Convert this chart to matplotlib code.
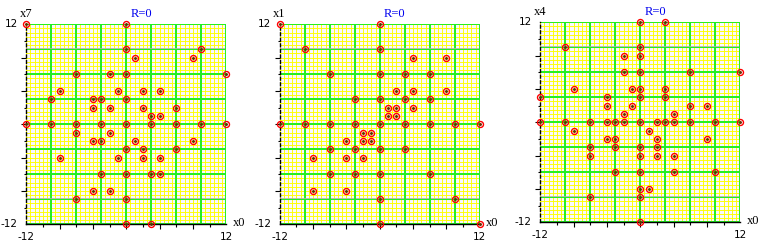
import matplotlib
matplotlib.use("Agg")
import matplotlib.pyplot as plt
import numpy as np

# x0 values shared axis; each panel plots x0 against another variable
p1_x0 = [-12, 0, 0, 9, 1, 8, -6, -2, 0, 12, -8, -1, 2, 4, -9, -4, -3, 0, -4, -2, 2, 6, 3, 4,
         -12, -9, -6, -3, 0, 3, 6, 9, 12, -6, -2, -4, -3, 1, 8, 0, 2, 6, -8, -1, 2, 4,
         -3, 0, 3, 4, -4, -2, -6, 0, 0, 3]
p1_x7 = [12, 12, 9, 9, 8, 8, 6, 6, 6, 6, 4, 4, 4, 4, 3, 3, 3, 3, 2, 2, 2, 2, 1, 1,
         0, 0, 0, 0, 0, 0, 0, 0, 0, -1, -1, -2, -2, -2, -2, -3, -3, -3, -4, -4, -4, -4,
         -6, -6, -6, -6, -8, -8, -9, -9, -12, -12]

p2_x0 = [-12, 0, -9, 0, 4, 8, -6, 0, 3, 6, 2, 4, 8, -3, 0, 3, 6, 1, 2, 4, 1, 2,
         -12, -9, -6, -3, 0, 3, 6, 9, 12, -2, -1, -4, -2, -1, -6, -3, 0, 3, -8, -4, -2,
         -6, -3, 0, 6, -8, -4, 0, 9, 0, 12]
p2_x1 = [12, 12, 9, 9, 8, 8, 6, 6, 6, 6, 4, 4, 4, 3, 3, 3, 3, 2, 2, 2, 1, 1,
         0, 0, 0, 0, 0, 0, 0, 0, 0, -1, -1, -2, -2, -2, -3, -3, -3, -3, -4, -4, -4,
         -6, -6, -6, -6, -8, -8, -9, -9, -12, -12]

p3_x0 = [0, 3, -9, 0, -2, 0, -2, 0, 6, 12, -8, -1, 0, 3, -12, -4, 0, 3, -4, -1, 6, 8, -2, 4,
         -12, -9, -6, -4, -3, -2, 0, 2, 3, 4, 6, 9, 12, -8, 1, -4, -3, 2, 8, -6, -3, 0, 2,
         -6, 0, 2, 4, -3, 0, 4, 9, 0, 1, -6, 0, 0]
p3_x4 = [12, 12, 9, 9, 8, 8, 6, 6, 6, 6, 4, 4, 4, 4, 3, 3, 3, 3, 2, 2, 2, 2, 1, 1,
         0, 0, 0, 0, 0, 0, 0, 0, 0, 0, 0, 0, 0, -1, -1, -2, -2, -2, -2, -3, -3, -3, -3,
         -4, -4, -4, -4, -6, -6, -6, -6, -8, -8, -9, -9, -12]

panels = [(p1_x0, p1_x7, "x7", 26.3, 24.3),
          (p2_x0, p2_x1, "x1", 279.7, 24.3),
          (p3_x0, p3_x4, "x4", 540.3, 22.3)]

W, H = 774, 248
fig = plt.figure(figsize=(W / 100, H / 100), dpi=100)
fig.patch.set_facecolor("white")

green = "#22ee22"
yellow = "#ffff00"

for xs, ys, ylab, left, top in panels:
    ax = fig.add_axes([left / W, 1 - (top + 200) / H, 200 / W, 200 / H])
    ax.set_xlim(-12, 12)
    ax.set_ylim(-12, 12)
    ax.set_facecolor("#f8f8ff")

    # fine yellow grid
    for v in np.arange(-12, 12.01, 0.5):
        ax.axvline(v, color=yellow, lw=0.65, zorder=1, snap=True)
        ax.axhline(v, color=yellow, lw=0.65, zorder=1, snap=True)
    # green major grid
    for v in np.arange(-9, 12.01, 3):
        ax.axvline(v, color=green, lw=1.4, zorder=2, snap=True)
        if abs(v) == 9:
            ax.axhline(v + 0.12, color="#b4b4a0", lw=0.6, zorder=2, snap=True)
            ax.axhline(v, color=green, lw=0.75, zorder=2, snap=True)
        else:
            ax.axhline(v, color=green, lw=1.4, zorder=2, snap=True)
    ax.axhline(-12, color=green, lw=1.4, zorder=2, snap=True)

    ax.plot(xs, ys, linestyle="none", marker="o", markersize=4.3,
            markerfacecolor="none", markeredgecolor="#ff0000",
            markeredgewidth=1.0, clip_on=False, zorder=5)
    ax.plot(xs, ys, linestyle="none", marker="o", markersize=1.1,
            color="#603000", clip_on=False, zorder=6)

    for s in ["top", "right"]:
        ax.spines[s].set_visible(False)
    ax.spines["bottom"].set_color("black")
    ax.spines["bottom"].set_linewidth(1.0)
    ax.spines["left"].set_color("black")
    ax.spines["left"].set_linewidth(1.0)
    ax.spines["left"].set_linestyle((0, (2, 2)))
    for s in ax.spines.values():
        s.set_zorder(4)

    ax.set_xticks(np.arange(-8, 8.1, 4))
    ax.set_yticks(np.arange(-8, 8.1, 4))
    ax.set_xticks(np.arange(-10, 10.1, 2), minor=True)
    ax.set_yticks(np.arange(-10, 10.1, 2), minor=True)
    ax.tick_params(which="major", length=3.5, width=0.8, direction="out",
                   labelbottom=False, labelleft=False)
    ax.tick_params(which="minor", length=1.8, width=0.8, direction="out")

    sans = dict(fontsize=7.5, family="DejaVu Sans", color="black")
    serif = dict(fontsize=9, family="Liberation Serif", color="black")
    ax.text(-13.0, 12, "12", ha="right", va="center", **sans)
    ax.text(-13.0, -12, "-12", ha="right", va="center", **sans)
    ax.text(-12, -13.5, "-12", ha="center", va="center", **sans)
    ax.text(12, -13.5, "12", ha="center", va="center", **sans)
    ax.text(12.8, -11.9, "x0", ha="left", va="center", **serif)
    ax.text(-12.8, 13.2, ylab, ha="left", va="center", **serif)
    ax.text(1.8, 13.2, "R=0", ha="center", va="center", fontsize=9,
            family="Liberation Serif", color="#0000ee")

fig.savefig("out.png", dpi=100)
